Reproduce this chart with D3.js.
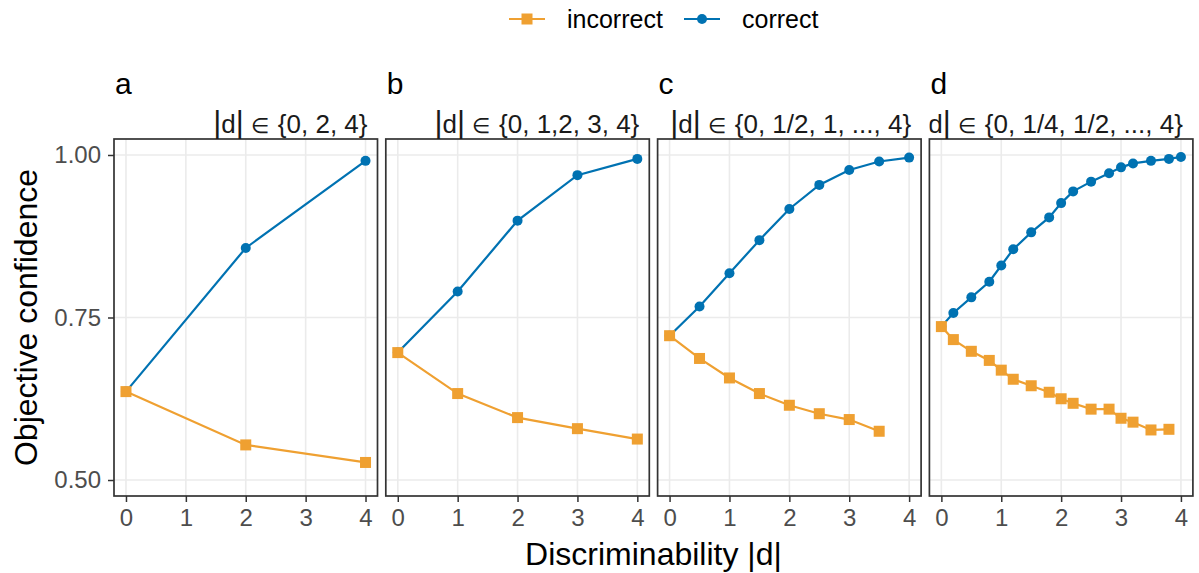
<!DOCTYPE html>
<html>
<head>
<meta charset="utf-8">
<script src="https://cdn.jsdelivr.net/npm/d3@7"></script>
<style>
  body { margin: 0; background: #fff; }
  svg { display: block; font-family: "Liberation Sans", Arial, sans-serif; }
</style>
</head>
<body>
<script>
// values
const panelLetters = ["a", "b", "c", "d"];
const stripSets = [
  "{0, 2, 4}",
  "{0, 1,2, 3, 4}",
  "{0, 1/2, 1, ..., 4}",
  "{0, 1/4, 1/2, ..., 4}"
];

const xA = [0, 2, 4];
const correctA = [0.636, 0.857, 0.991];
const incorrectA = [0.636, 0.554, 0.527];

const xB = [0, 1, 2, 3, 4];
const correctB = [0.696, 0.790, 0.899, 0.969, 0.994];
const incorrectB = [0.696, 0.633, 0.596, 0.579, 0.563];

const xC = [0, 0.5, 1, 1.5, 2, 2.5, 3, 3.5, 4];
const correctC = [0.722, 0.767, 0.818, 0.869, 0.917, 0.954, 0.977, 0.990, 0.996];
const incorrectC = [0.722, 0.687, 0.657, 0.633, 0.615, 0.602, 0.593, 0.575];

const xD = [0, 0.2, 0.5, 0.8, 1, 1.2, 1.5, 1.8, 2, 2.2, 2.5, 2.8, 3, 3.2, 3.5, 3.8, 4];
const correctD = [0.736, 0.757, 0.781, 0.805, 0.830, 0.855, 0.881, 0.904, 0.926,
  0.944, 0.959, 0.972, 0.981, 0.987, 0.991, 0.994, 0.997];
const incorrectD = [0.736, 0.716, 0.698, 0.684, 0.669, 0.655, 0.645, 0.635,
  0.625, 0.618, 0.609, 0.609, 0.595, 0.589, 0.577, 0.578];

const xTicks = [0, 1, 2, 3, 4];
const yTicks = [0.5, 0.75, 1.0];

const width = 1199;
const height = 573;
const orange = "#EFA031";
const blue = "#0072B2";

const panels = [
  { x: xA, correct: correctA, incorrect: incorrectA },
  { x: xB, correct: correctB, incorrect: incorrectB },
  { x: xC, correct: correctC, incorrect: incorrectC },
  { x: xD, correct: correctD, incorrect: incorrectD }
];

const panelTop = 139;
const panelBottom = 496;
const panelLeft = 114;
const panelW = 263.5;
const panelGap = 8.3;

const svg = d3.select("body").append("svg")
  .attr("width", width)
  .attr("height", height)
  .attr("viewBox", [0, 0, width, height]);

const y = d3.scaleLinear().domain([0.4754, 1.0246]).range([panelBottom, panelTop]);

const defs = svg.append("defs");

panels.forEach((p, i) => {
  const left = panelLeft + i * (panelW + panelGap);
  const right = left + panelW;
  const x = d3.scaleLinear().domain([-0.2, 4.2]).range([left, right]);
  const g = svg.append("g");

  // grid
  g.selectAll(".gx").data(xTicks).join("line")
    .attr("x1", d => x(d)).attr("x2", d => x(d))
    .attr("y1", panelTop).attr("y2", panelBottom)
    .attr("stroke", "#EBEBEB").attr("stroke-width", 1.6);
  g.selectAll(".gy").data(yTicks).join("line")
    .attr("x1", left).attr("x2", right)
    .attr("y1", d => y(d)).attr("y2", d => y(d))
    .attr("stroke", "#EBEBEB").attr("stroke-width", 1.6);

  // x axis
  const xAxis = g.append("g")
    .attr("transform", `translate(0,${panelBottom})`)
    .call(d3.axisBottom(x).tickValues(xTicks).tickFormat(d3.format("d")).tickSize(6).tickPadding(7));
  xAxis.select(".domain").remove();
  xAxis.selectAll(".tick line").attr("stroke", "#333").attr("stroke-width", 1.5);
  xAxis.selectAll(".tick text").attr("fill", "#4D4D4D").attr("font-size", 24)
    .attr("font-family", "Liberation Sans, Arial, sans-serif");

  if (i === 0) {
    const yAxis = g.append("g")
      .attr("transform", `translate(${left},0)`)
      .call(d3.axisLeft(y).tickValues(yTicks).tickFormat(d3.format(".2f")).tickSize(6).tickPadding(7));
    yAxis.select(".domain").remove();
    yAxis.selectAll(".tick line").attr("stroke", "#333").attr("stroke-width", 1.5);
    yAxis.selectAll(".tick text").attr("fill", "#4D4D4D").attr("font-size", 24)
      .attr("font-family", "Liberation Sans, Arial, sans-serif");
  }

  const line = d3.line().x(d => x(d[0])).y(d => y(d[1]));
  const cPts = p.correct.map((v, k) => [p.x[k], v]);
  const iPts = p.incorrect.map((v, k) => [p.x[k], v]);

  g.append("path").attr("d", line(cPts))
    .attr("fill", "none").attr("stroke", blue).attr("stroke-width", 2.2);
  g.selectAll(".c").data(cPts).join("circle")
    .attr("cx", d => x(d[0])).attr("cy", d => y(d[1])).attr("r", 5)
    .attr("fill", blue);

  g.append("path").attr("d", line(iPts))
    .attr("fill", "none").attr("stroke", orange).attr("stroke-width", 2.2);
  g.selectAll(".s").data(iPts).join("rect")
    .attr("x", d => x(d[0]) - 5.5).attr("y", d => y(d[1]) - 5.5)
    .attr("width", 11).attr("height", 11)
    .attr("fill", orange);

  // panel border
  g.append("rect")
    .attr("x", left).attr("y", panelTop)
    .attr("width", panelW).attr("height", panelBottom - panelTop)
    .attr("fill", "none").attr("stroke", "#333").attr("stroke-width", 1.7);

  // strip label, clipped to the panel width
  defs.append("clipPath").attr("id", "strip" + i)
    .append("rect").attr("x", left).attr("y", 100).attr("width", panelW).attr("height", 39);
  const strip = g.append("text")
    .attr("clip-path", `url(#strip${i})`)
    .attr("x", right - 10).attr("y", 133)
    .attr("text-anchor", "end")
    .attr("font-size", 26)
    .attr("fill", "#1A1A1A");
  strip.append("tspan").attr("font-size", 31).text("|");
  strip.append("tspan").text("d");
  strip.append("tspan").attr("font-size", 31).text("|");
  strip.append("tspan").attr("dx", 7).attr("font-size", 21).attr("font-family", "DejaVu Sans")
    .attr("font-weight", 200).text("\u2208");
  strip.append("tspan").attr("dx", 9).text(stripSets[i]);

  g.append("text")
    .attr("x", left + 1).attr("y", 94)
    .attr("font-size", 30)
    .attr("fill", "#000")
    .text(panelLetters[i]);
});

// axis titles
svg.append("text")
  .attr("transform", `translate(37,${(panelTop + panelBottom) / 2}) rotate(-90)`)
  .attr("text-anchor", "middle")
  .attr("font-size", 32)
  .text("Objective confidence");

svg.append("text")
  .attr("x", (panelLeft + panelLeft + 4 * panelW + 3 * panelGap) / 2)
  .attr("y", 565)
  .attr("text-anchor", "middle")
  .attr("font-size", 32)
  .text("Discriminability |d|");

// legend
const legend = svg.append("g");
const legendItems = [
  { label: "incorrect", color: orange, shape: "square", x0: 509 },
  { label: "correct", color: blue, shape: "circle", x0: 684 }
];
legendItems.forEach(it => {
  legend.append("line")
    .attr("x1", it.x0).attr("x2", it.x0 + 36)
    .attr("y1", 19).attr("y2", 19)
    .attr("stroke", it.color).attr("stroke-width", 2.2);
  if (it.shape === "square") {
    legend.append("rect")
      .attr("x", it.x0 + 18 - 5.5).attr("y", 19 - 5.5)
      .attr("width", 11).attr("height", 11).attr("fill", it.color);
  } else {
    legend.append("circle")
      .attr("cx", it.x0 + 18).attr("cy", 19).attr("r", 5).attr("fill", it.color);
  }
  legend.append("text")
    .attr("x", it.x0 + 58).attr("y", 28)
    .attr("font-size", 25)
    .text(it.label);
});
</script>
</body>
</html>
